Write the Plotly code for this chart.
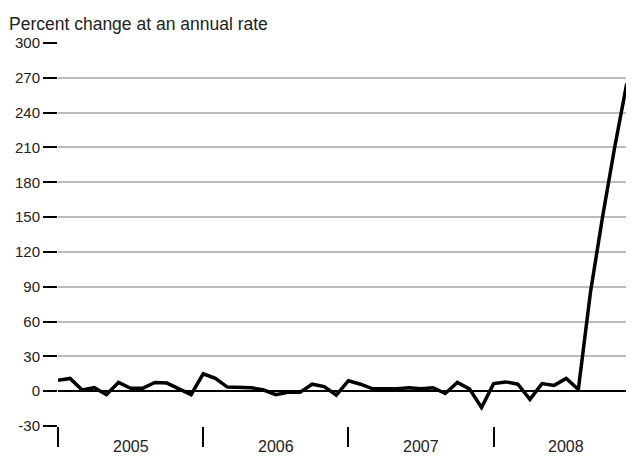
import plotly.graph_objects as go

values_2005 = [9.5, 11, 1, 3, -3, 7.5, 2.5, 2.5, 7.5, 7, 2, -3]
values_2006 = [15, 11, 3.5, 3, 3, 1, -3, -1, -1, 6, 4, -3.5]
values_2007 = [9, 6, 2, 2, 2, 3, 2, 3, -2, 7.5, 2, -14]
values_2008 = [6.5, 8, 6, -7, 6.5, 5, 11, 1.5, 85, 150, 210, 265]
years = ["2005", "2006", "2007", "2008"]
y_ticks = [-30, 0, 30, 60, 90, 120, 150, 180, 210, 240, 270, 300]

vals = values_2005 + values_2006 + values_2007 + values_2008
x = list(range(len(vals)))

fig = go.Figure()
fig.add_trace(go.Scatter(x=x, y=vals, mode="lines", cliponaxis=False,
                         line=dict(color="black", width=3.5), hoverinfo="skip"))
for i, yr in enumerate(years):
    fig.add_annotation(x=i * 12 + 6, y=0, yref="paper", yshift=-10, text=yr,
                       showarrow=False, yanchor="top",
                       font=dict(size=16, color="#222", family="Liberation Sans"))
fig.add_annotation(x=0, xref="paper", xshift=-51, y=1, yref="paper", yshift=7,
                   text="Percent change at an annual rate", showarrow=False,
                   xanchor="left", yanchor="bottom",
                   font=dict(size=17.5, color="#222", family="Liberation Sans"))
fig.update_layout(
    width=626, height=452, margin=dict(l=50, r=0, t=35, b=34),
    plot_bgcolor="white", paper_bgcolor="white", showlegend=False,
    xaxis=dict(range=[0, 47.6], tickvals=[0, 12, 24, 36], showticklabels=False,
               ticks="outside", ticklen=20, tickwidth=1.5, tickcolor="black",
               showgrid=False, zeroline=False, showline=False, automargin=False),
    yaxis=dict(range=[-30, 300], tickvals=y_ticks, ticktext=[str(v) for v in y_ticks],
               ticks="outside", ticklen=14, automargin=False,
               tickwidth=1.5, tickcolor="black", showgrid=True, gridcolor="#bbbbbb",
               gridwidth=1.5, zeroline=True, zerolinecolor="black", zerolinewidth=2,
               showline=False, tickfont=dict(size=15, color="#222", family="Liberation Sans")),
)
fig.write_html("out.html")
